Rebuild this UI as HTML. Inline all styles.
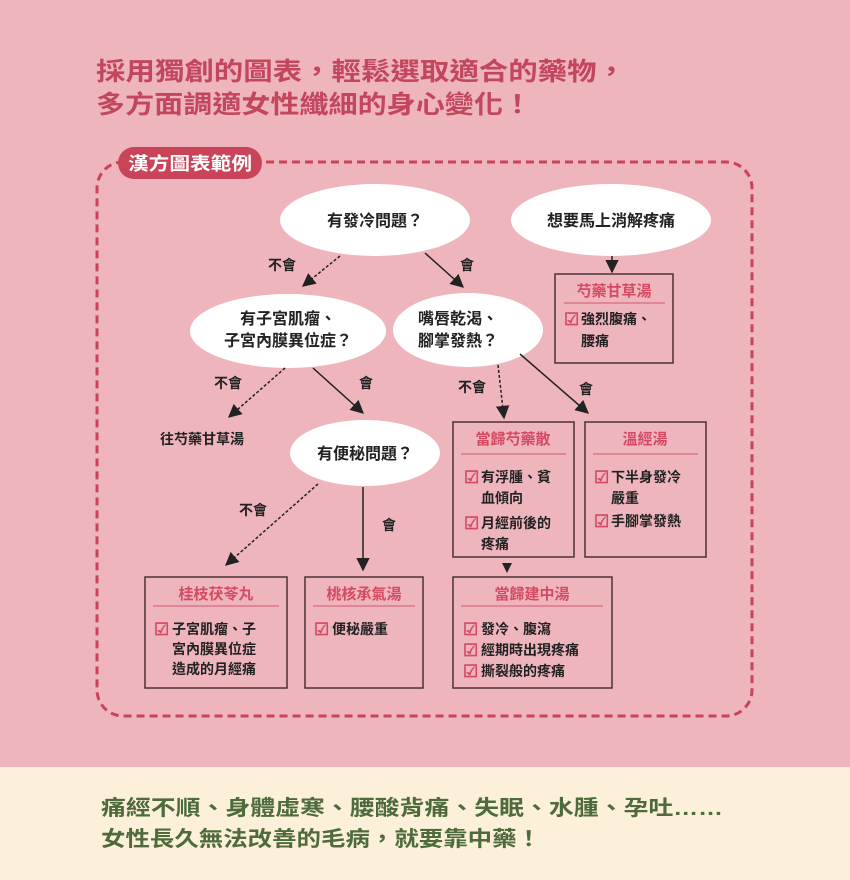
<!DOCTYPE html>
<html><head><meta charset="utf-8"><style>
html,body{margin:0;padding:0;}
body{width:850px;height:880px;overflow:hidden;background:#efb5bd;}
svg{display:block;font-family:"Liberation Sans","Noto Sans CJK TC",sans-serif;}
.t{font-size:16px;font-weight:bold;fill:#222;}
.h{font-size:15px;font-weight:bold;fill:#d54a62;}
.b{font-size:14px;font-weight:bold;fill:#222;}
.ck{font-size:17px;font-weight:bold;fill:#d54a62;}
.box{fill:none;stroke:#4a3236;stroke-width:1.5;}
.ln{stroke:#d86b7c;stroke-width:1.2;}
.ar{stroke:#222;stroke-width:1.5;fill:none;}
.da{stroke:#222;stroke-width:1.5;fill:none;stroke-dasharray:3 2;}
</style></head><body>
<svg width="850" height="880" viewBox="0 0 850 880">
<defs><marker id="m" viewBox="0 0 10 10" refX="9" refY="5" markerWidth="9" markerHeight="9" orient="auto"><path d="M0,0 L10,5 L0,10 z" fill="#222"/></marker></defs>
<rect x="0" y="0" width="850" height="767" fill="#efb5bd"/>
<rect x="0" y="767" width="850" height="113" fill="#fdf0da"/>
<g font-weight="bold" font-size="25" fill="#c2465c">
<text x="96" y="80" textLength="530" lengthAdjust="spacingAndGlyphs">採用獨創的圖表，輕鬆選取適合的藥物，</text>
<text x="96" y="113" textLength="436" lengthAdjust="spacingAndGlyphs">多方面調適女性纖細的身心變化！</text>
</g>
<rect x="97" y="162" width="655" height="554" rx="26" fill="none" stroke="#c94458" stroke-width="3" stroke-dasharray="8 5"/>
<rect x="118" y="147" width="144" height="32" rx="16" fill="#c94458"/>
<text x="190" y="170" text-anchor="middle" font-size="18" font-weight="bold" fill="#fff" textLength="124" lengthAdjust="spacingAndGlyphs">漢方圖表範例</text>
<ellipse cx="375" cy="220" rx="95" ry="36" fill="#fff"/>
<text x="375" y="226" text-anchor="middle" class="t">有發冷問題？</text>
<ellipse cx="611" cy="220" rx="100" ry="36" fill="#fff"/>
<text x="611" y="226" text-anchor="middle" class="t">想要馬上消解疼痛</text>
<ellipse cx="288" cy="331" rx="98" ry="37" fill="#fff"/>
<text x="288" y="324" text-anchor="middle" class="t">有子宮肌瘤、</text>
<text x="288" y="346" text-anchor="middle" class="t">子宮內膜異位症？</text>
<ellipse cx="468" cy="330" rx="75" ry="37" fill="#fff"/>
<text x="458" y="324" text-anchor="middle" class="t">嘴唇乾渴、</text>
<text x="458" y="346" text-anchor="middle" class="t">腳掌發熱？</text>
<ellipse cx="365" cy="453" rx="75" ry="33" fill="#fff"/>
<text x="365" y="459" text-anchor="middle" class="t">有便秘問題？</text>
<line x1="340" y1="256" x2="303" y2="286" class="da" marker-end="url(#m)"/>
<text x="282" y="270" text-anchor="middle" class="b">不會</text>
<line x1="425" y1="253" x2="463" y2="287" class="ar" marker-end="url(#m)"/>
<text x="467" y="270" text-anchor="middle" class="b">會</text>
<line x1="612" y1="256" x2="612" y2="272" class="ar" marker-end="url(#m)"/>
<line x1="285" y1="368" x2="229" y2="417" class="da" marker-end="url(#m)"/>
<text x="228" y="388" text-anchor="middle" class="b">不會</text>
<line x1="313" y1="368" x2="363" y2="413" class="ar" marker-end="url(#m)"/>
<text x="366" y="388" text-anchor="middle" class="b">會</text>
<text x="160" y="444" class="b" font-size="13">往芍藥甘草湯</text>
<line x1="318" y1="484" x2="226" y2="565" class="da" marker-end="url(#m)"/>
<text x="253" y="515" text-anchor="middle" class="b">不會</text>
<line x1="363" y1="487" x2="363" y2="570" class="ar" marker-end="url(#m)"/>
<text x="389" y="530" text-anchor="middle" class="b">會</text>
<line x1="498" y1="365" x2="504" y2="418" class="da" marker-end="url(#m)"/>
<text x="472" y="392" text-anchor="middle" class="b">不會</text>
<line x1="520" y1="354" x2="588" y2="413" class="ar" marker-end="url(#m)"/>
<text x="586" y="394" text-anchor="middle" class="b">會</text>
<path d="M502,563 L512,563 L507,573 z" fill="#222"/>
<rect x="555" y="274" width="118" height="89" class="box"/>
<text x="614" y="296" text-anchor="middle" class="h">芍藥甘草湯</text>
<line x1="564" y1="303" x2="665" y2="303" class="ln"/>
<text x="564" y="325" class="ck">☑</text><text x="581" y="324" class="b">強烈腹痛、</text>
<text x="581" y="346" class="b">腰痛</text>
<rect x="453" y="422" width="121" height="135" class="box"/>
<text x="513" y="444" text-anchor="middle" class="h">當歸芍藥散</text>
<line x1="461" y1="454" x2="566" y2="454" class="ln"/>
<text x="464" y="483" class="ck">☑</text><text x="481" y="482" class="b">有浮腫、貧</text>
<text x="481" y="503" class="b">血傾向</text>
<text x="464" y="529" class="ck">☑</text><text x="481" y="528" class="b">月經前後的</text>
<text x="481" y="549" class="b">疼痛</text>
<rect x="585" y="422" width="121" height="135" class="box"/>
<text x="645" y="444" text-anchor="middle" class="h">溫經湯</text>
<line x1="593" y1="454" x2="698" y2="454" class="ln"/>
<text x="594" y="483" class="ck">☑</text><text x="611" y="482" class="b">下半身發冷</text>
<text x="611" y="503" class="b">嚴重</text>
<text x="594" y="527" class="ck">☑</text><text x="611" y="526" class="b">手腳掌發熱</text>
<rect x="145" y="577" width="142" height="111" class="box"/>
<text x="216" y="599" text-anchor="middle" class="h">桂枝茯苓丸</text>
<line x1="153" y1="606" x2="279" y2="606" class="ln"/>
<text x="154" y="635" class="ck">☑</text><text x="172" y="634" class="b">子宮肌瘤、子</text>
<text x="172" y="654" class="b">宮內膜異位症</text>
<text x="172" y="674" class="b">造成的月經痛</text>
<rect x="305" y="577" width="118" height="111" class="box"/>
<text x="364" y="599" text-anchor="middle" class="h">桃核承氣湯</text>
<line x1="313" y1="606" x2="415" y2="606" class="ln"/>
<text x="314" y="635" class="ck">☑</text><text x="332" y="634" class="b">便秘嚴重</text>
<rect x="453" y="577" width="159" height="111" class="box"/>
<text x="532" y="599" text-anchor="middle" class="h">當歸建中湯</text>
<line x1="461" y1="606" x2="603" y2="606" class="ln"/>
<text x="463" y="635" class="ck">☑</text><text x="481" y="634" class="b">發冷、腹瀉</text>
<text x="463" y="656" class="ck">☑</text><text x="481" y="655" class="b">經期時出現疼痛</text>
<text x="463" y="677" class="ck">☑</text><text x="481" y="676" class="b">撕裂般的疼痛</text>
<g font-size="21" fill="#4e6b3c" font-weight="bold">
<text x="101" y="815" textLength="622" lengthAdjust="spacingAndGlyphs">痛經不順、身體虛寒、腰酸背痛、失眠、水腫、孕吐……</text>
<text x="101" y="846" textLength="440" lengthAdjust="spacingAndGlyphs">女性長久無法改善的毛病，就要靠中藥！</text>
</g>
</svg>
</body></html>
